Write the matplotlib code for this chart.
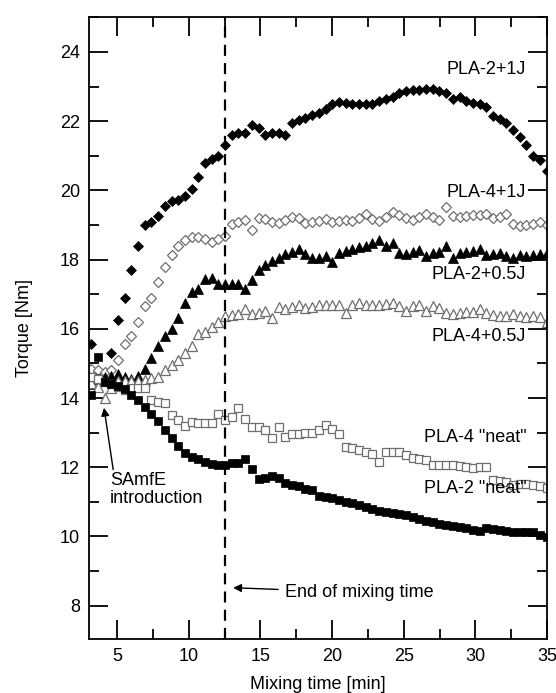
import matplotlib
matplotlib.use("Agg")
import matplotlib.pyplot as plt
from matplotlib.ticker import MultipleLocator

plt.rcParams['font.family'] = ['Liberation Sans', 'DejaVu Sans']

# sampling times [min], shared by all runs
time = [3.20, 3.67, 4.13, 4.60, 5.07, 5.53, 6.00, 6.47, 6.94, 7.40,
        7.87, 8.34, 8.80, 9.27, 9.74, 10.21, 10.67, 11.14, 11.61, 12.07,
        12.54, 13.01, 13.47, 13.94, 14.41, 14.88, 15.34, 15.81, 16.28, 16.74,
        17.21, 17.68, 18.14, 18.61, 19.08, 19.55, 20.01, 20.48, 20.95, 21.41,
        21.88, 22.35, 22.81, 23.28, 23.75, 24.22, 24.68, 25.15, 25.62, 26.08,
        26.55, 27.02, 27.48, 27.95, 28.42, 28.89, 29.35, 29.82, 30.29, 30.75,
        31.22, 31.69, 32.15, 32.62, 33.09, 33.56, 34.02, 34.49, 34.96]

pla2_1j = [15.55, 14.6, 14.5, 15.3, 16.25, 16.9, 17.7, 18.4, 19.0, 19.1,
           19.25, 19.55, 19.7, 19.72, 19.85, 20.05, 20.4, 20.8, 20.9, 21.0,
           21.3, 21.6, 21.65, 21.65, 21.9, 21.8, 21.6, 21.65, 21.65, 21.6,
           21.95, 22.03, 22.08, 22.17, 22.25, 22.35, 22.5, 22.56, 22.53, 22.51,
           22.51, 22.51, 22.51, 22.58, 22.63, 22.7, 22.8, 22.86, 22.89, 22.91,
           22.93, 22.92, 22.88, 22.8, 22.65, 22.7, 22.58, 22.52, 22.5, 22.42,
           22.15, 22.07, 21.95, 21.75, 21.55, 21.3, 21.0, 20.88, 20.55]

pla4_1j = [14.85, 14.8, 14.75, 14.8, 15.1, 15.55, 15.8, 16.2, 16.65, 16.9,
           17.35, 17.8, 18.12, 18.4, 18.58, 18.64, 18.65, 18.6, 18.5, 18.6,
           18.68, 19.03, 19.08, 19.15, 18.85, 19.2, 19.18, 19.1, 19.05, 19.15,
           19.22, 19.2, 19.05, 19.08, 19.12, 19.18, 19.1, 19.12, 19.15, 19.12,
           19.2, 19.32, 19.18, 19.12, 19.22, 19.38, 19.28, 19.2, 19.15, 19.22,
           19.32, 19.22, 19.15, 19.53, 19.27, 19.24, 19.26, 19.3, 19.28, 19.32,
           19.2, 19.22, 19.32, 19.03, 18.98, 19.0, 19.03, 19.1, 19.0]

pla2_05j = [14.4, 14.55, 14.6, 14.65, 14.7, 14.6, 14.55, 14.65, 14.85, 15.15,
            15.5, 15.78, 16.0, 16.3, 16.75, 17.05, 17.15, 17.45, 17.48, 17.29,
            17.29, 17.29, 17.29, 17.15, 17.4, 17.7, 17.85, 17.96, 18.05, 18.15,
            18.22, 18.3, 18.15, 18.06, 18.06, 18.1, 17.93, 18.2, 18.25, 18.3,
            18.35, 18.4, 18.48, 18.58, 18.4, 18.49, 18.2, 18.15, 18.22, 18.27,
            18.1, 18.2, 18.22, 18.38, 18.06, 18.2, 18.22, 18.25, 18.3, 18.12,
            18.15, 18.18, 18.1, 18.05, 18.12, 18.1, 18.12, 18.15, 18.2]

pla4_05j = [14.43, 14.33, 14.0, 14.3, 14.48, 14.48, 14.5, 14.48, 14.52, 14.57,
            14.62, 14.8, 14.95, 15.1, 15.3, 15.5, 15.85, 15.9, 16.05, 16.2,
            16.37, 16.41, 16.43, 16.58, 16.43, 16.46, 16.51, 16.3, 16.62, 16.56,
            16.62, 16.7, 16.6, 16.62, 16.7, 16.68, 16.7, 16.7, 16.46, 16.7,
            16.75, 16.68, 16.68, 16.7, 16.72, 16.75, 16.65, 16.52, 16.66, 16.68,
            16.51, 16.66, 16.6, 16.46, 16.42, 16.45, 16.5, 16.48, 16.58, 16.45,
            16.4, 16.37, 16.37, 16.42, 16.37, 16.33, 16.37, 16.33, 16.2]

pla4_neat = [14.62, 14.55, 14.45, 14.4, 14.33, 14.24, 14.3, 14.3, 14.28, 13.95,
             13.9, 13.85, 13.5, 13.37, 13.2, 13.3, 13.27, 13.27, 13.27, 13.53,
             13.37, 13.46, 13.72, 13.4, 13.17, 13.17, 13.07, 12.85, 13.17, 12.88,
             12.95, 12.97, 12.98, 12.98, 13.07, 13.22, 13.1, 12.96, 12.6, 12.55,
             12.5, 12.43, 12.38, 12.16, 12.43, 12.45, 12.45, 12.35, 12.27, 12.25,
             12.2, 12.06, 12.06, 12.06, 12.06, 12.04, 12.01, 11.98, 12.01, 12.01,
             11.63, 11.6, 11.58, 11.5, 11.52, 11.52, 11.5, 11.45, 11.4]

pla2_neat = [14.1, 15.2, 14.45, 14.4, 14.35, 14.25, 14.1, 13.95, 13.73, 13.55,
             13.33, 13.08, 12.85, 12.62, 12.42, 12.31, 12.25, 12.15, 12.1, 12.06,
             12.06, 12.13, 12.13, 12.25, 11.96, 11.65, 11.7, 11.76, 11.68, 11.55,
             11.48, 11.45, 11.38, 11.35, 11.18, 11.14, 11.1, 11.06, 11.0, 10.97,
             10.92, 10.85, 10.79, 10.74, 10.7, 10.67, 10.64, 10.61, 10.57, 10.5,
             10.46, 10.41, 10.36, 10.33, 10.3, 10.27, 10.24, 10.2, 10.15, 10.25,
             10.23, 10.18, 10.16, 10.13, 10.13, 10.14, 10.14, 10.05, 9.98]

labels = ['PLA-2+1J', 'PLA-4+1J', 'PLA-2+0.5J', 'PLA-4+0.5J',
          'PLA-4 "neat"', 'PLA-2 "neat"']
label_y = [23.48, 19.95, 17.58, 15.77, 12.85, 11.38]

fig = plt.figure(figsize=(5.56, 6.93), dpi=100)
ax = fig.add_axes([0.160, 0.078, 0.824, 0.897])

grey = '#6e6e6e'
ax.plot(time, pla2_1j, 'D', ms=5.5, color='black', mew=0.5)
ax.plot(time, pla4_1j, 'D', ms=5.5, mfc='white', mec=grey, mew=0.9)
ax.plot(time, pla2_05j, '^', ms=7.5, color='black', mew=0.5)
ax.plot(time, pla4_05j, '^', ms=7.5, mfc='white', mec=grey, mew=0.9)
ax.plot(time, pla4_neat, 's', ms=5.2, mfc='white', mec=grey, mew=0.9)
ax.plot(time, pla2_neat, 's', ms=5.7, color='black', mew=0.5)

ax.axvline(12.5, color='black', lw=1.6, dashes=(5, 3.2))

fs = 13
for lab, yy in zip(labels, label_y):
    ax.text(33.55, yy, lab, ha='right', va='center', fontsize=fs)

ax.annotate('End of mixing time', xy=(13.1, 8.52), xytext=(16.72, 8.38),
            ha='left', va='center', fontsize=fs,
            arrowprops=dict(arrowstyle='-|>', color='black', lw=1.0,
                            mutation_scale=12, shrinkA=3, shrinkB=0))
ax.annotate('SAmfE\nintroduction', xy=(4.09, 13.72), xytext=(4.5, 11.35),
            ha='left', va='center', fontsize=fs, linespacing=1.05,
            arrowprops=dict(arrowstyle='-|>', color='black', lw=1.0,
                            mutation_scale=12, shrinkA=0, shrinkB=0,
                            relpos=(0.04, 1.0)))

ax.set_xlim(3.04, 35)
ax.set_ylim(7.04, 25)
ax.xaxis.set_major_locator(MultipleLocator(5))
ax.xaxis.set_minor_locator(MultipleLocator(2.5))
ax.yaxis.set_major_locator(MultipleLocator(2))
ax.yaxis.set_minor_locator(MultipleLocator(1))
ax.tick_params(which='both', direction='in', top=True, right=True,
               labelsize=fs, pad=6.5)
ax.tick_params(which='major', length=13.5, width=1.3)
ax.tick_params(which='minor', length=7, width=1.3)
for sp in ax.spines.values():
    sp.set_linewidth(1.3)

ax.set_xlabel('Mixing time [min]', fontsize=fs, labelpad=8)
ax.set_ylabel('Torque [Nm]', fontsize=fs, labelpad=19)

fig.savefig('out.png', dpi=100)
